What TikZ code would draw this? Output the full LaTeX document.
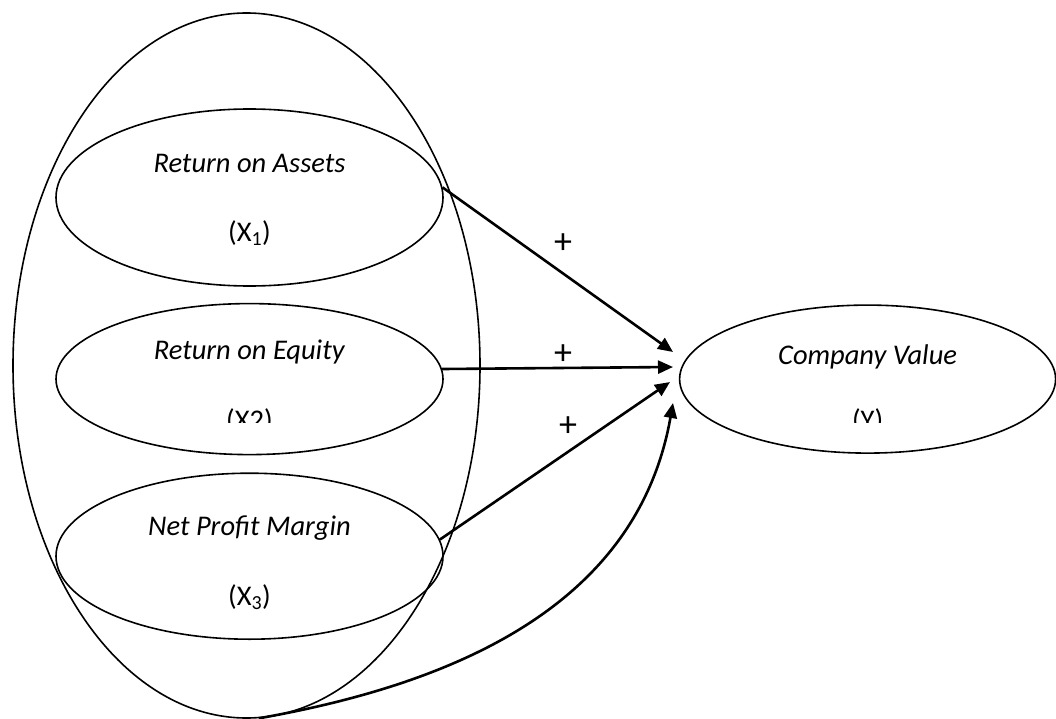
\documentclass[tikz,border=0pt]{standalone}
\usepackage{fontspec}
\setmainfont{Carlito}
\usetikzlibrary{shapes.geometric, arrows.meta, positioning}
\tikzstyle{frame} = [ellipse, minimum width=467pt, minimum height=705pt, inner sep=0pt, draw=black, line width=1.6pt]
\tikzstyle{var} = [ellipse, minimum width=387pt, inner sep=0pt, draw=black, line width=1.6pt]
\tikzstyle{result} = [var, minimum width=376pt, minimum height=148pt]
\tikzstyle{txt} = [anchor=base, inner sep=0pt, font=\fontsize{28.5}{34}\selectfont]
\tikzstyle{sign} = [anchor=center, inner sep=0pt, font=\fontsize{36}{40}\selectfont]
\tikzstyle{arrow} = [-{Triangle[length=15pt,width=13pt]}, line width=2.6pt]

\begin{document}
\begin{tikzpicture}[x=1pt, y=1pt]
	\useasboundingbox (0,0) rectangle (1056,-719);
	\node (frame) [frame] at (246.5,-365.5) {};
	\node (roa) [var, minimum height=177pt] at (249.5,-197.5) {};
	\node (roe) [var, minimum height=151pt, below=16pt of roa] {};
	\node (npm) [var, minimum height=166pt, below=17pt of roe] {};
	\node (cv) [result, right=235pt of roe] {};
	
	\node (roat) [txt] at ([yshift=25pt]roa.center) {\textit{Return on Assets}};
	\node (roax) [txt] at ([yshift=-44pt]roa.center) {(X\textsubscript{1})};
	\node (roet) [txt] at ([yshift=20pt]roe.center) {\textit{Return on Equity}};
	\node (npmt) [txt] at ([yshift=21pt]npm.center) {\textit{Net Profit Margin}};
	\node (npmx) [txt] at ([yshift=-49pt]npm.center) {(X\textsubscript{3})};
	\node (cvt) [txt] at ([yshift=15pt]cv.center) {\textit{Company Value}};
	\begin{scope}
		\clip (0,-300) rectangle (1056,-422);
		\node (roex) [txt] at ([yshift=-50pt]roe.center) {(X2)};
		\node (cvx) [txt] at ([yshift=-50pt]cv.center) {(Y)};
	\end{scope}
	
	\coordinate (tipA) at (673,-352);
	\coordinate (tipB) at (673,-367);
	\coordinate (tipC) at (670,-382);
	\coordinate (tipD) at (673,-403);
	\draw [arrow] (roa.3) -- (tipA);
	\draw [arrow] (roe.3) -- (tipB);
	\draw [arrow] (npm.5) -- (tipC);
	\draw [arrow] (frame.-88) to[out=10, in=260] (tipD);
	
	\node (s1) [sign] at (563,-244) {+};
	\node (s2) [sign] at (563,-355) {+};
	\node (s3) [sign] at (568,-427) {+};
\end{tikzpicture}
\end{document}
